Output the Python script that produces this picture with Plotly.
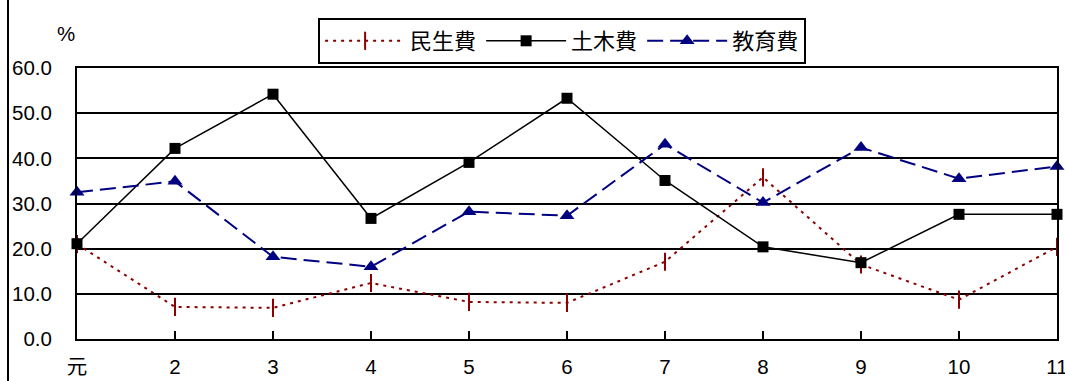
import plotly.graph_objects as go

# 年度 (元, 2 ... 11)
years = ["元", "2", "3", "4", "5", "6", "7", "8", "9", "10", "11"]

minsei = [21.0, 7.1, 6.9, 12.4, 8.2, 8.0, 17.1, 35.8, 16.5, 8.7, 20.4]     # 民生費
doboku = [21.1, 42.2, 54.2, 26.7, 39.1, 53.3, 35.1, 20.4, 16.9, 27.6, 27.6]  # 土木費
kyoiku = [32.5, 34.9, 18.2, 16.0, 28.2, 27.3, 43.1, 30.2, 42.4, 35.5, 38.2]  # 教育費

y_ticks = [0, 10, 20, 30, 40, 50, 60]

FONT = "Liberation Sans, Arial, Noto Sans CJK TC"
xs = list(range(len(years)))

# full-window figure (body margin removed below)
W, H = 1065, 381
L, R, T, B = 77, 8, 18, 42
paper_h = H - T - B
paper_w = W - L - R
top_frac = 271 / paper_h

fig = go.Figure()

fig.add_trace(go.Scatter(
    x=xs, y=minsei, name="民生費", mode="lines+markers", cliponaxis=False,
    line=dict(color="#8b0000", width=2, dash="3px,5px"),
    marker=dict(symbol="line-ns", size=13, line=dict(color="#8b0000", width=2)),
))
fig.add_trace(go.Scatter(
    x=xs, y=doboku, name="土木費", mode="lines+markers", cliponaxis=False,
    line=dict(color="black", width=1.5),
    marker=dict(symbol="square", size=11, color="black"),
))
fig.add_trace(go.Scatter(
    x=xs, y=kyoiku, name="教育費", mode="lines+markers", cliponaxis=False,
    line=dict(color="#000080", width=2, dash="16px,7px"),
    marker=dict(symbol="triangle-up", size=13, color="#000080"),
))

fig.update_layout(
    width=W, height=H,
    margin=dict(l=L, r=R, t=T, b=B),
    paper_bgcolor="white", plot_bgcolor="white",
    font=dict(family=FONT, size=20.5, color="black"),
    showlegend=True,
    legend=dict(
        orientation="h", x=0.495, xanchor="center", y=1.0, yanchor="top",
        bordercolor="black", borderwidth=2, bgcolor="white",
        font=dict(size=22), itemwidth=80, tracegroupgap=0,
    ),
    xaxis=dict(
        range=[0, 10], tickvals=xs, ticktext=years, automargin=False,
        showgrid=False, zeroline=False,
        showline=True, linecolor="black", linewidth=2, mirror=True,
        ticks="inside", ticklen=8, tickwidth=2, tickcolor="black",
        ticklabelstandoff=8, ticklabeloverflow="allow",
    ),
    yaxis=dict(
        range=[0, 60], tickvals=y_ticks, tickformat=".1f", automargin=False,
        domain=[0, top_frac],
        showgrid=True, gridcolor="black", gridwidth=2, zeroline=False,
        showline=True, linecolor="black", linewidth=2, mirror=True,
        ticks="", ticklabelstandoff=19,
    ),
    annotations=[dict(
        text="%", xref="paper", yref="paper", x=0.0, y=(H - B - 33) / paper_h,
        xanchor="right", yanchor="middle", showarrow=False, font=dict(size=20.5),
    )],
    shapes=[dict(
        type="line", xref="paper", yref="paper",
        x0=(8 - L) / paper_w, x1=(8 - L) / paper_w, y0=-0.2, y1=1.2,
        line=dict(color="black", width=2),
    )],
)

fig.write_html(
    "out.html",
    config={"displayModeBar": False},
    post_script="document.body.style.margin='0';document.body.style.overflow='hidden';",
)
